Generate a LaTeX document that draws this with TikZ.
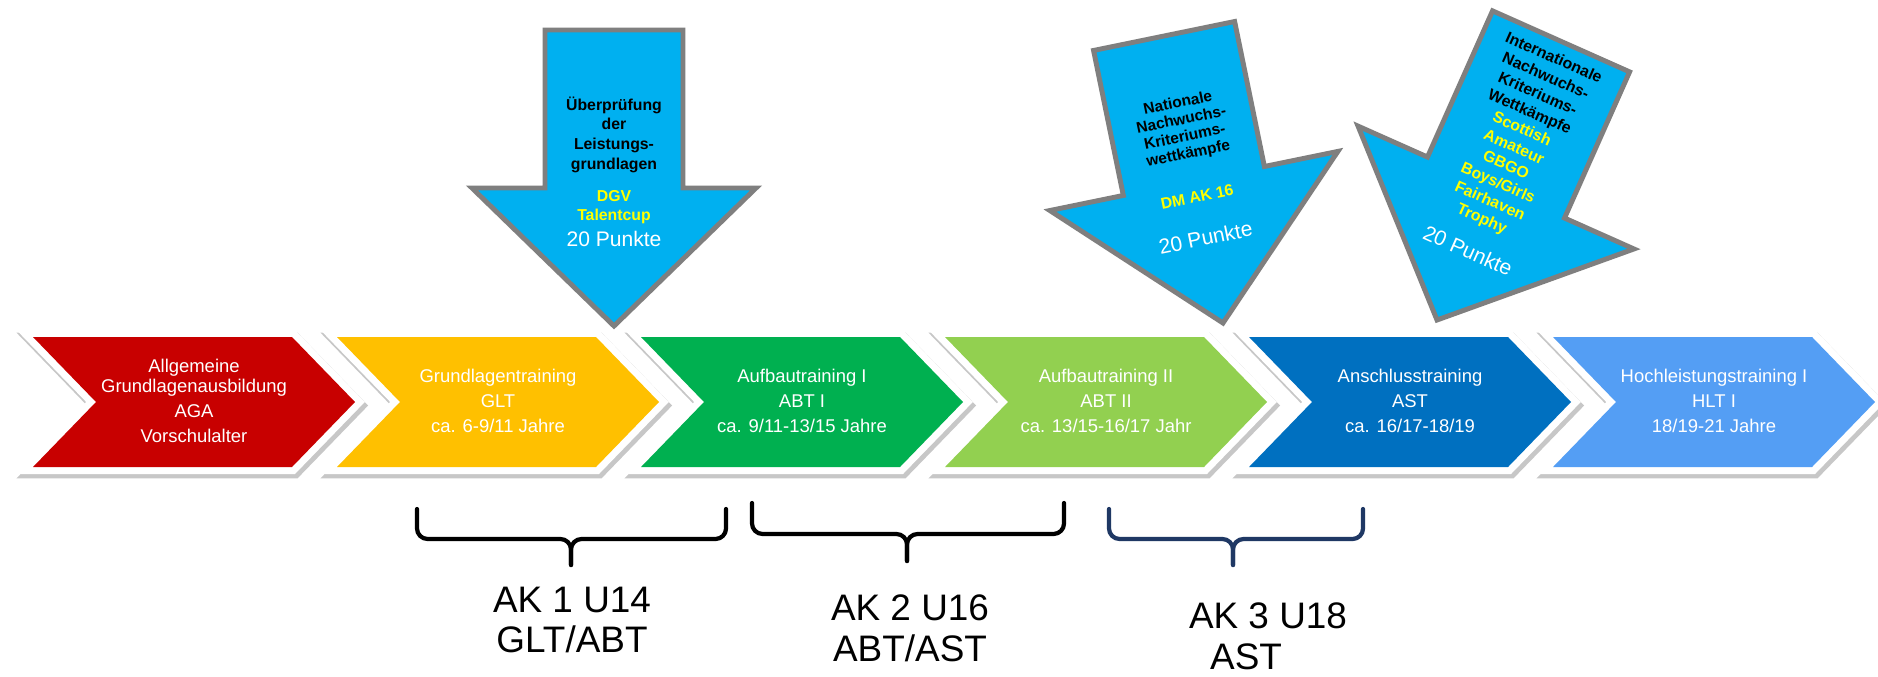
\documentclass[tikz,border=0pt]{standalone}
\usepackage{fontspec}
\setmainfont{Liberation Sans}
\usetikzlibrary{calc}
\usetikzlibrary{positioning}

\definecolor{chevred}{HTML}{C80000}
\definecolor{chevyellow}{HTML}{FFC000}
\definecolor{chevgreen}{HTML}{00B050}
\definecolor{chevlime}{HTML}{92D050}
\definecolor{chevblue}{HTML}{0070C0}
\definecolor{chevsky}{HTML}{549EF4}
\definecolor{arrowblue}{HTML}{00B0F0}
\definecolor{arrowgray}{HTML}{7F7F7F}
\definecolor{cupyellow}{HTML}{FFFF00}
\definecolor{aknavy}{HTML}{1F3864}

% Umriss eines Pfeils nach unten, Spitze im Ursprung
\newcommand{\arrowshape}[4]{(0,0) -- (#2,-#3) -- (#1,-#3) -- (#1,-#4) -- (-#1,-#4) -- (-#1,-#3) -- (-#2,-#3) -- cycle}

\tikzset{
    chevron/.style={fill=#1, line join=miter,
        preaction={draw=black!22, line width=9pt, line join=miter, transform canvas={shift={(1.2pt,-2pt)}}},
        preaction={draw=white, line width=8pt, line join=miter}},
    chevtext/.style={text=white, align=center, font=\fontsize{10.5}{11.4}\selectfont},
    bigarrow/.style={fill=arrowblue, draw=arrowgray, line width=2.8pt, line join=miter},
    arrowtext/.style={align=center, font=\bfseries\fontsize{9}{11.2}\selectfont},
    cuptext/.style={arrowtext, text=cupyellow},
    punkttext/.style={text=white, font=\fontsize{12}{14}\selectfont},
    klammer/.style={line width=2.4pt, rounded corners=6pt, line cap=round},
    aktext/.style={align=center, font=\fontsize{21}{23.1}\selectfont}
}

\begin{document}
\begin{tikzpicture}[x=0.02cm, y=-0.02cm]
    \useasboundingbox (0,0) rectangle (1878,676);
    \fill[white] (0,0) rectangle (1878,676);

    % Phasen der Ausbildung
    \foreach \i/\col/\nm/\txt in {
        0/chevred/aga/{Allgemeine\\Grundlagenausbildung\\[3pt]AGA\\[3pt]Vorschulalter},
        1/chevyellow/glt/{Grundlagentraining\\[2.8pt]GLT\\[2.8pt]ca. 6-9/11 Jahre},
        2/chevgreen/abteins/{Aufbautraining I\\[2.8pt]ABT I\\[2.8pt]ca. 9/11-13/15 Jahre},
        3/chevlime/abtzwei/{Aufbautraining II\\[2.8pt]ABT II\\[2.8pt]ca. 13/15-16/17 Jahr},
        4/chevblue/ast/{Anschlusstraining\\[2.8pt]AST\\[2.8pt]ca. 16/17-18/19},
        5/chevsky/hlt/{Hochleistungstraining I\\[2.8pt]HLT I\\[2.8pt]18/19-21 Jahre}} {
        \begin{scope}[shift={(33+304*\i,0)}]
            \path[chevron=\col] (0,337) -- (259,337) -- (322,402) -- (259,467) -- (0,467) -- (63,402) -- cycle;
            \node[chevtext] (\nm) at (161,401) {\txt};
        \end{scope}
    }

    % Pfeil 1: Talentcup
    \begin{scope}[shift={(614,326)}]
        \draw[bigarrow] \arrowshape{69}{142}{138}{296};
        \node[arrowtext] (pruefung) at (0,-191.5) {Überprüfung\\der\\Leistungs-\\grundlagen};
        \node[cuptext] (talentcup) at (0,-119) {DGV\\Talentcup};
        \node[punkttext] (punkteeins) at (0,-87) {20 Punkte};
    \end{scope}

    % Pfeil 2: nationale Wettkaempfe
    \begin{scope}[shift={(1223,323)}, rotate=11.6, transform shape]
        \draw[bigarrow] \arrowshape{72}{147}{145}{293};
        \node[arrowtext, font=\bfseries\fontsize{8.8}{9.8}\selectfont] (national) at (0,-198) {Nationale\\Nachwuchs-\\Kriteriums-\\wettkämpfe};
        \node[cuptext] (dmak) at (0,-129) {DM AK 16};
        \node[punkttext] (punktezwei) at (0,-87) {20 Punkte};
    \end{scope}

    % Pfeil 3: internationale Wettkaempfe
    \begin{scope}[shift={(1437,320)}, rotate=-24, transform shape]
        \draw[bigarrow] \arrowshape{75}{151}{145}{305};
        \node[arrowtext] (international) at (0,-256.5) {Internationale\\Nachwuchs-\\Kriteriums-\\Wettkämpfe};
        \node[cuptext] (scottish) at (0,-159) {Scottish\\Amateur\\GBGO\\Boys/Girls\\Fairhaven\\Trophy};
        \node[punkttext] (punktedrei) at (0,-76) {20 Punkte};
    \end{scope}

    % Klammern fuer die Altersklassen
    \coordinate (akeinsl) at (417,509);
    \coordinate (akeinsr) at (726,509);
    \coordinate (akeinsm) at (571,565);
    \coordinate (akzweil) at (752,503);
    \coordinate (akzweir) at (1064,503);
    \coordinate (akzweim) at (907,561);
    \coordinate (akdreil) at (1109,509);
    \coordinate (akdreir) at (1363,509);
    \coordinate (akdreim) at (1233,565);

    \draw[klammer] (akeinsl) -- ++(0,30) -| (akeinsm);
    \draw[klammer] (akeinsr) -- ++(0,30) -| (akeinsm);
    \draw[klammer] (akzweil) -- ++(0,31) -| (akzweim);
    \draw[klammer] (akzweir) -- ++(0,31) -| (akzweim);
    \draw[klammer, aknavy] (akdreil) -- ++(0,30) -| (akdreim);
    \draw[klammer, aknavy] (akdreir) -- ++(0,30) -| (akdreim);

    \node[aktext] (akeins) at (572,620) {AK 1 U14\\GLT/ABT};
    \node[aktext] (akzwei) at (910,628) {AK 2 U16\\ABT/AST};
    \node[aktext, align=left] (akdrei) at (1268,636) {AK 3 U18\\\hspace*{12pt}AST};
\end{tikzpicture}
\end{document}
